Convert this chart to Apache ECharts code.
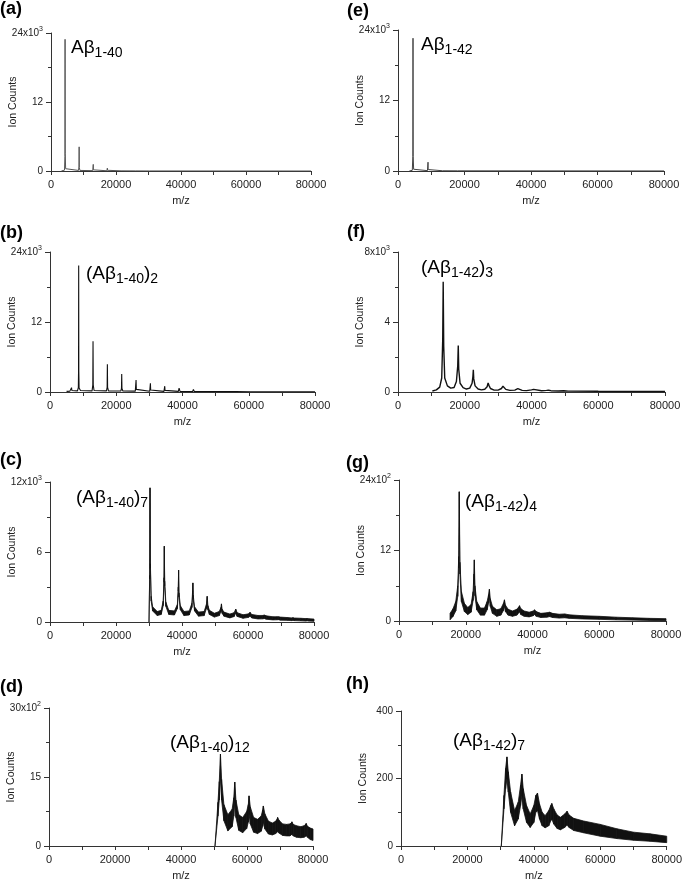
<!DOCTYPE html>
<html>
<head>
<meta charset="utf-8">
<script src="https://cdn.jsdelivr.net/npm/echarts@6/dist/echarts.min.js"></script>
<style>
  html, body { margin: 0; padding: 0; background: #fff; }
  #chart { width: 685px; height: 882px; }
</style>
</head>
<body>
<div id="chart"></div>
<script>
// m/z tick labels shared by every panel
const xTicks = ['0', '20000', '40000', '60000', '80000'];

// (a) Abeta1-40 monomer
const aMz  = [3200, 4150, 4280, 4330, 4380, 4500, 4800, 8450, 8600, 8660, 8720, 8900, 12850, 12960, 13000, 13050, 13200, 17200, 17300, 17340, 17400, 17550, 21550, 21650, 21750, 25900, 26000, 26100, 30250, 30320, 30400, 80000];
const aInt = [0, 150, 2500, 22900, 3000, 400, 120, 100, 700, 4200, 600, 100, 60, 250, 1150, 200, 60, 40, 150, 500, 120, 40, 30, 250, 30, 20, 150, 20, 10, 80, 10, 0];
const aTicks = ['0', '12', '24x10^3'];

// (b) (Abeta1-40)2
const bMz  = [5000, 5250, 5320, 5400, 6000, 6400, 6500, 6600, 7200, 8300, 8560, 8620, 8660, 8700, 8780, 9200,
  12700, 12920, 12990, 13060, 13300,
  17050, 17250, 17320, 17390, 17650,
  21400, 21580, 21650, 21720, 22000,
  25750, 25910, 25980, 26060, 26350,
  30100, 30240, 30310, 30390, 30700,
  34400, 34570, 34640, 34720, 35050,
  38750, 38970, 39250,
  43050, 43300, 43550,
  47400, 47630, 47900,
  51750, 51960, 52200,
  56100, 56290, 56500,
  60450, 60620, 60800,
  80000];
const bInt = [100, 200, 350, 150, 150, 300, 750, 250, 150, 200, 800, 3500, 21700, 3500, 700, 250,
  200, 1200, 8700, 1200, 250,
  200, 800, 4750, 800, 200,
  180, 600, 3100, 600, 180,
  150, 450, 2050, 450, 150,
  130, 350, 1500, 350, 130,
  110, 280, 1000, 280, 110,
  100, 650, 100,
  90, 450, 90,
  80, 350, 80,
  70, 200, 70,
  60, 150, 60,
  50, 100, 50,
  20];
const bTicks = ['0', '12', '24x10^3'];

// (c) (Abeta1-40)7 - noisy trace, lower / upper edge
const cMz   = [30000, 30200, 30310, 30420, 30650, 31100, 32500, 33700, 34300, 34550, 34640, 34750, 35100, 36000, 37700, 38600, 38880, 38970, 39080, 39500, 40600, 42200, 43000, 43220, 43300, 43400, 43800, 45000, 46700, 47400, 47630, 47850, 48300, 49800, 51300, 51800, 51960, 52150, 52700, 54500, 55800, 56290, 56700, 58500, 60200, 60620, 61100, 63000, 64500, 64950, 65500, 67500, 68800, 69280, 69800, 72000, 73200, 73610, 74100, 76000, 77500, 77940, 78400, 80000];
const cHigh = [0, 4000, 11500, 5000, 2200, 1300, 900, 1000, 1800, 3800, 6500, 3500, 1700, 1000, 950, 1500, 3000, 4450, 2500, 1400, 900, 950, 1600, 2700, 3350, 2300, 1300, 850, 900, 1500, 2200, 1400, 1000, 750, 900, 1250, 1550, 1100, 850, 680, 800, 1100, 800, 620, 700, 830, 650, 560, 560, 600, 530, 450, 450, 450, 420, 380, 350, 370, 340, 320, 290, 300, 280, 250];
const cLow  = [0, 3700, 11000, 4600, 1800, 950, 550, 650, 1400, 3400, 6000, 3100, 1350, 650, 600, 1150, 2650, 4100, 2150, 1050, 550, 600, 1250, 2350, 3000, 1950, 950, 500, 550, 1150, 1850, 1050, 650, 420, 550, 900, 1200, 750, 500, 350, 470, 770, 480, 320, 400, 520, 350, 260, 270, 300, 240, 180, 190, 200, 160, 140, 120, 140, 120, 100, 80, 100, 80, 60];
const cTicks = ['0', '6', '12x10^3'];

// (d) (Abeta1-40)12
const dMz   = [50300, 51200, 51600, 51960, 52300, 53000, 54200, 55500, 56000, 56290, 56650, 57500, 58700, 59900, 60400, 60620, 61000, 62000, 63200, 64300, 64750, 64950, 65400, 66500, 67700, 68700, 69100, 69280, 69700, 70800, 72000, 73000, 73400, 73610, 74000, 75000, 76300, 77300, 77750, 77940, 78300, 79200, 80000];
const dHigh = [0, 950, 1400, 2000, 1450, 900, 680, 800, 1050, 1390, 1000, 680, 620, 750, 900, 1090, 850, 620, 580, 650, 780, 870, 700, 540, 500, 540, 580, 620, 560, 480, 470, 480, 500, 525, 470, 440, 420, 440, 470, 490, 430, 390, 370];
const dLow  = [0, 650, 1000, 1500, 1000, 550, 330, 420, 650, 950, 620, 340, 290, 380, 520, 700, 480, 300, 270, 320, 430, 520, 370, 260, 240, 270, 300, 330, 280, 230, 220, 220, 240, 260, 220, 190, 180, 190, 210, 230, 190, 140, 120];
const dTicks = ['0', '15', '30x10^2'];

// (e) Abeta1-42 monomer
const eMz  = [3400, 4300, 4460, 4514, 4570, 4700, 5000, 8850, 8980, 9028, 9080, 9250, 13400, 13542, 13680, 17950, 18056, 18150, 80000];
const eInt = [0, 120, 2500, 22600, 2500, 300, 100, 60, 300, 1500, 250, 60, 40, 250, 40, 30, 120, 30, 10];
const eTicks = ['0', '12', '24x10^3'];

// (f) (Abeta1-42)3
const fMz  = [10300, 11500, 12500, 13100, 13400, 13542, 13700, 14000, 14800, 15800, 16800, 17500, 17900, 18056, 18200, 18600, 19500, 20500, 21500, 22200, 22450, 22570, 22700, 23100, 24000, 25000, 26000, 26700, 27000, 27084, 27250, 27700, 28800, 30000, 31000, 31450, 31598, 31800, 32300, 33500, 35000, 35900, 36112, 36400, 37200, 38500, 40000, 40626, 41200, 43000, 44500, 45140, 45800, 48000, 49654, 51000, 60000, 70000, 80000];
const fInt = [60, 120, 280, 800, 3000, 6300, 2600, 800, 350, 220, 260, 600, 1500, 2650, 1300, 500, 250, 170, 220, 500, 900, 1270, 750, 350, 170, 120, 160, 300, 520, 630, 380, 200, 110, 110, 200, 330, 400, 260, 150, 90, 110, 190, 220, 150, 90, 80, 120, 150, 95, 70, 90, 100, 75, 60, 75, 50, 40, 30, 25];
const fTicks = ['0', '4', '8x10^3'];

// (g) (Abeta1-42)4
const gMz   = [15300, 16200, 17000, 17600, 17900, 18056, 18250, 18700, 19600, 20600, 21600, 22200, 22450, 22570, 22750, 23300, 24400, 25600, 26400, 26850, 27084, 27350, 28000, 29300, 30500, 31300, 31598, 31900, 32700, 34000, 35300, 35900, 36112, 36500, 37500, 39000, 40200, 40626, 41100, 42500, 44300, 45140, 46000, 48000, 49654, 51000, 55000, 60000, 65000, 70000, 75000, 80000];
const gHigh = [130, 210, 330, 600, 1100, 2200, 1000, 500, 300, 230, 280, 500, 800, 1040, 600, 330, 220, 220, 330, 450, 540, 380, 250, 190, 210, 300, 360, 270, 200, 170, 200, 240, 260, 210, 170, 150, 170, 190, 160, 130, 140, 150, 130, 115, 120, 105, 90, 80, 65, 55, 45, 40];
const gLow  = [20, 80, 170, 420, 900, 1900, 800, 330, 160, 110, 150, 350, 620, 850, 430, 190, 100, 100, 190, 310, 420, 250, 130, 80, 100, 180, 250, 160, 100, 80, 100, 140, 160, 110, 80, 70, 90, 110, 80, 60, 65, 75, 60, 50, 55, 45, 35, 28, 20, 15, 10, 5];
const gTicks = ['0', '12', '24x10^2'];

// (h) (Abeta1-42)7
const hMz   = [30200, 31000, 31500, 31900, 32300, 33000, 34200, 35300, 36000, 36400, 36800, 37800, 38900, 40000, 40600, 41100, 41700, 42500, 43400, 44500, 45100, 45400, 46000, 47000, 48000, 49300, 50000, 50600, 52000, 55000, 60000, 65000, 70000, 75000, 80000];
const hHigh = [0, 150, 230, 264, 220, 160, 105, 130, 180, 213, 170, 120, 95, 120, 150, 157, 125, 100, 90, 105, 120, 126, 110, 92, 85, 95, 103, 92, 82, 74, 64, 51, 41, 36, 29];
const hLow  = [0, 110, 170, 200, 160, 100, 60, 80, 120, 150, 110, 70, 55, 70, 100, 105, 80, 60, 54, 60, 75, 80, 65, 52, 48, 55, 62, 55, 46, 39, 29, 22, 17, 14, 10];
const hTicks = ['0', '200', '400'];

const FONT = '"Liberation Sans", Arial, Helvetica, sans-serif';
const AXIS = '#333';
const INK = '#111';

const zip = (xs, ys) => xs.map((x, i) => [x, ys[i]]);

// layout of each panel (pixels) + what goes in it
const panels = [
  {tag: '(a)', tagPos: [0, 0],     box: {left: 51,  top: 33,  width: 260, height: 138}, yMax: 24000, ticks: aTicks, line: [aMz, aInt], color: '#555', lw: 1,
   note: '{m|Aβ}{s|1-40}', notePos: [71, 36]},
  {tag: '(b)', tagPos: [0, 224],   box: {left: 50,  top: 252, width: 265, height: 140}, yMax: 24000, ticks: bTicks, line: [bMz, bInt], color: INK, lw: 1.1,
   note: '{m|(Aβ}{s|1-40}{m|)}{s|2}', notePos: [86, 262]},
  {tag: '(c)', tagPos: [0, 451],   box: {left: 50,  top: 482, width: 264, height: 140}, yMax: 12000, ticks: cTicks, band: [cMz, cLow, cHigh],
   note: '{m|(Aβ}{s|1-40}{m|)}{s|7}', notePos: [76, 486]},
  {tag: '(d)', tagPos: [0, 678],   box: {left: 49,  top: 708, width: 264, height: 139}, yMax: 3000,  ticks: dTicks, band: [dMz, dLow, dHigh],
   note: '{m|(Aβ}{s|1-40}{m|)}{s|12}', notePos: [170, 731]},
  {tag: '(e)', tagPos: [347, 2],   box: {left: 398, top: 30,  width: 266, height: 141}, yMax: 24000, ticks: eTicks, line: [eMz, eInt], color: '#444', lw: 1,
   note: '{m|Aβ}{s|1-42}', notePos: [421, 33]},
  {tag: '(f)', tagPos: [347, 223], box: {left: 398, top: 252, width: 267, height: 140}, yMax: 8000,  ticks: fTicks, line: [fMz, fInt], color: INK, lw: 1.4,
   note: '{m|(Aβ}{s|1-42}{m|)}{s|3}', notePos: [421, 256]},
  {tag: '(g)', tagPos: [346, 454], box: {left: 399, top: 480, width: 267, height: 141}, yMax: 2400,  ticks: gTicks, band: [gMz, gLow, gHigh],
   note: '{m|(Aβ}{s|1-42}{m|)}{s|4}', notePos: [465, 490]},
  {tag: '(h)', tagPos: [346, 675], box: {left: 401, top: 711, width: 269, height: 136}, yMax: 400,   ticks: hTicks, band: [hMz, hLow, hHigh],
   note: '{m|(Aβ}{s|1-42}{m|)}{s|7}', notePos: [453, 729]}
];

function bandRenderer(mz, low, high) {
  return function (params, api) {
    const i = params.dataIndex;
    if (i >= mz.length - 1) return null;
    const pts = [
      api.coord([mz[i], low[i]]),
      api.coord([mz[i + 1], low[i + 1]]),
      api.coord([mz[i + 1], high[i + 1]]),
      api.coord([mz[i], high[i]])
    ];
    return {
      type: 'polygon',
      shape: {points: pts},
      style: {fill: INK, stroke: INK, lineWidth: 0.8}
    };
  };
}

const grid = [], xAxis = [], yAxis = [], series = [], graphic = [];

panels.forEach((p, i) => {
  grid.push(Object.assign({containLabel: false}, p.box));

  xAxis.push({
    gridIndex: i, type: 'value', min: 0, max: 80000, interval: 20000,
    axisLine: {show: true, onZero: false, lineStyle: {color: AXIS, width: 1}},
    axisTick: {show: true, length: 4, lineStyle: {color: AXIS}},
    minorTick: {show: true, splitNumber: 2, length: 4, lineStyle: {color: AXIS}},
    splitLine: {show: false}, minorSplitLine: {show: false},
    axisLabel: {fontSize: 11, fontFamily: FONT, color: '#222', margin: 8,
      formatter: v => xTicks[Math.round(v / 20000)]},
    name: 'm/z', nameLocation: 'middle', nameGap: 24, nameMoveOverlap: false,
    nameTextStyle: {fontSize: 11, fontFamily: FONT, color: '#222'}
  });

  const step = p.yMax / 2;
  yAxis.push({
    gridIndex: i, type: 'value', min: 0, max: p.yMax, interval: step,
    axisLine: {show: true, lineStyle: {color: AXIS, width: 1}},
    axisTick: {show: true, length: 5, lineStyle: {color: AXIS}},
    minorTick: {show: true, splitNumber: 2, length: 3, lineStyle: {color: AXIS}},
    splitLine: {show: false}, minorSplitLine: {show: false},
    axisLabel: {fontSize: 10, fontFamily: FONT, color: '#222', margin: 8, lineHeight: 14,
      formatter: v => p.ticks[Math.round(v / step)].replace(/\^(\d)/, '{sup|$1}'),
      rich: {sup: {fontSize: 7, fontFamily: FONT, color: '#222', lineHeight: 7, verticalAlign: 'top'}}},
    name: 'Ion Counts', nameLocation: 'middle', nameGap: 32, nameMoveOverlap: false,
    nameTextStyle: {fontSize: 10.5, fontFamily: FONT, color: '#222'}
  });

  if (p.line) {
    series.push({
      type: 'line', xAxisIndex: i, yAxisIndex: i,
      data: zip(p.line[0], p.line[1]),
      symbol: 'none', showSymbol: false, smooth: false,
      lineStyle: {width: p.lw, color: p.color}, silent: true, animation: false
    });
  } else {
    const [mz, low, high] = p.band;
    series.push({
      type: 'custom', xAxisIndex: i, yAxisIndex: i,
      data: mz.map((m, j) => [m, low[j], high[j]]),
      encode: {x: 0, y: [1, 2]},
      renderItem: bandRenderer(mz, low, high),
      silent: true, animation: false
    });
  }

  graphic.push({
    type: 'text', x: p.tagPos[0], y: p.tagPos[1], silent: true,
    style: {text: p.tag, font: 'bold 18px ' + FONT, fill: '#000', align: 'left', verticalAlign: 'top'}
  });
  graphic.push({
    type: 'text', x: p.notePos[0], y: p.notePos[1], silent: true,
    style: {
      text: p.note, fill: '#000', align: 'left', verticalAlign: 'top',
      rich: {
        m: {fontSize: 19, fontFamily: FONT, fill: '#000', lineHeight: 24, verticalAlign: 'middle'},
        s: {fontSize: 14, fontFamily: FONT, fill: '#000', lineHeight: 12, verticalAlign: 'bottom'}
      }
    }
  });
});

const chart = echarts.init(document.getElementById('chart'), null, {renderer: 'canvas'});
chart.setOption({
  backgroundColor: '#fff',
  animation: false,
  grid: grid,
  xAxis: xAxis,
  yAxis: yAxis,
  series: series,
  graphic: graphic
});
</script>
</body>
</html>
